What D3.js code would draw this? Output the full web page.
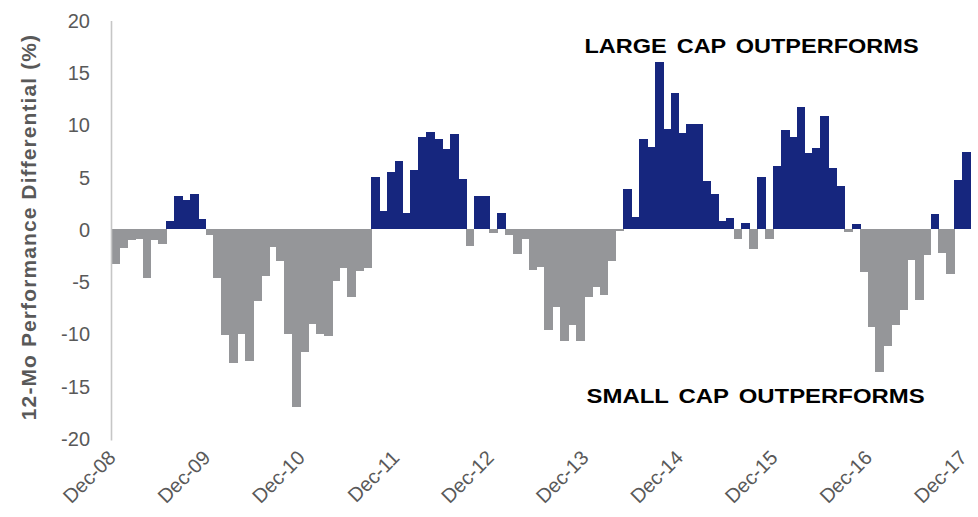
<!DOCTYPE html>
<html>
<head>
<meta charset="utf-8">
<script src="https://cdn.jsdelivr.net/npm/d3@7"></script>
<style>
  html, body { margin: 0; padding: 0; background: #ffffff; }
  svg { display: block; }
  text { font-family: "Liberation Sans", Arial, sans-serif; }
</style>
</head>
<body>
<svg id="chart" width="978" height="517"></svg>
<script>
// 12-month performance differential (%), monthly Dec-08 .. Dec-17
const differential = [
  -3.3, -1.85, -1.05, -0.9, -4.7, -1.05, -1.45, 0.7, 3.1, 2.7, 3.3, 0.9,
  -0.6, -4.7, -10.1, -12.8, -10.0, -12.6, -6.9, -4.5, -1.7, -3.1, -10.0, -17.0,
  -11.8, -9.1, -10.0, -10.2, -4.95, -3.7, -6.5, -4.05, -3.7, 4.9, 1.7, 5.4,
  6.5, 1.45, 5.6, 8.8, 9.2, 8.6, 7.6, 9.0, 4.7, -1.65, 3.1, 3.1,
  -0.4, 1.45, -0.6, -2.4, -0.9, -3.9, -3.6, -9.7, -7.5, -10.75, -9.2, -10.75,
  -6.5, -5.5, -6.35, -3.1, -0.2, 3.75, 1.1, 8.6, 7.8, 15.9, 9.5, 13.0,
  9.1, 10.0, 10.0, 4.5, 3.3, 0.7, 1.05, -0.95, 0.5, -1.9, 4.9, -0.95,
  5.95, 9.4, 8.8, 11.6, 7.2, 7.75, 10.8, 5.75, 4.1, -0.3, 0.45, -4.1,
  -9.35, -13.65, -11.2, -9.2, -7.75, -2.95, -6.8, -2.5, 1.4, -2.3, -4.3, 4.65,
  7.35
];
const tickLabels = ["Dec-08","Dec-09","Dec-10","Dec-11","Dec-12","Dec-13","Dec-14","Dec-15","Dec-16","Dec-17"];
const yTicks = [20, 15, 10, 5, 0, -5, -10, -15, -20];
const yTitle = "12-Mo Performance Differential (%)";
const topNote = "LARGE CAP OUTPERFORMS";
const bottomNote = "SMALL CAP OUTPERFORMS";
const colorLarge = "#16267e";
const colorSmall = "#959699";

// month categories (Dec-08 ... Dec-17)
const fmt = d3.timeFormat("%b-%y");
const months = d3.timeMonths(new Date(2008, 11, 1), new Date(2018, 0, 1)).map(fmt);

const svg = d3.select("#chart");

const x = d3.scaleBand().domain(months).range([111, 970]).padding(0);
const y = d3.scaleLinear().domain([-20, 20]).range([437.4, 19.6]);

// bars
svg.append("g")
  .attr("shape-rendering", "crispEdges")
  .selectAll("rect")
  .data(differential.map((v, i) => ({ m: months[i], v })))
  .join("rect")
  .attr("x", d => x(d.m))
  .attr("width", x.bandwidth() + 0.9)
  .attr("y", d => d.v >= 0 ? y(d.v) : y(0) + 0.6)
  .attr("height", d => Math.abs(y(d.v) - y(0)))
  .attr("fill", d => d.v >= 0 ? colorLarge : colorSmall);

// y axis line
svg.append("line")
  .attr("x1", 111.5).attr("x2", 111.5)
  .attr("y1", y(20) + 1.5).attr("y2", y(-20) + 3)
  .attr("stroke", "#c6c6c6").attr("stroke-width", 1.6);

// y tick labels
svg.append("g").selectAll("text")
  .data(yTicks)
  .join("text")
  .attr("x", 90)
  .attr("y", d => y(d))
  .attr("dy", "0.42em")
  .attr("text-anchor", "end")
  .attr("font-size", 20)
  .attr("fill", "#595959")
  .text(d => d);

// x tick labels
svg.append("g").selectAll("text")
  .data(tickLabels)
  .join("text")
  .attr("text-anchor", "end")
  .attr("font-size", 20)
  .attr("fill", "#595959")
  .attr("transform", d => `translate(${x(d) + x.bandwidth() / 2 + 2},${459}) rotate(-45)`)
  .text(d => d);

// y axis title
svg.append("text")
  .attr("transform", "translate(35.5,227) rotate(-90)")
  .attr("text-anchor", "middle")
  .attr("font-size", 21)
  .attr("font-weight", "bold")
  .attr("letter-spacing", 1.1)
  .attr("fill", "#595959")
  .text(yTitle);

// annotations (slightly widened lettering as in the source)
svg.append("text")
  .attr("transform", "translate(584.5,53.3) scale(1.12,1)")
  .attr("font-size", 21)
  .attr("font-weight", "bold")
  .attr("word-spacing", 3)
  .attr("fill", "#000000")
  .text(topNote);

svg.append("text")
  .attr("transform", "translate(586.5,403) scale(1.14,1)")
  .attr("font-size", 21)
  .attr("font-weight", "bold")
  .attr("word-spacing", 3)
  .attr("fill", "#000000")
  .text(bottomNote);
</script>
</body>
</html>
